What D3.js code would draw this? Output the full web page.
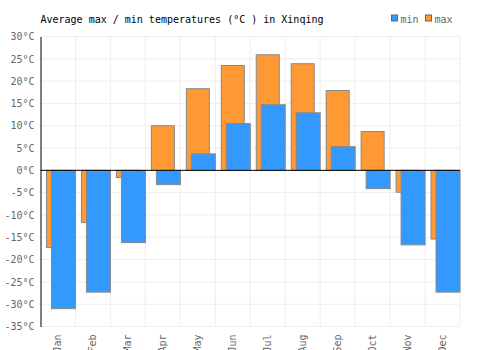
<!DOCTYPE html>
<html>
<head>
<meta charset="utf-8">
<script src="https://cdn.jsdelivr.net/npm/d3@7"></script>
<style>
  body { margin: 0; background: #fff; }
  text { font-family: "DejaVu Sans Mono", monospace; }
</style>
</head>
<body>
<div id="chart"></div>
<script>
// chart data
const months = ["Jan", "Feb", "Mar", "Apr", "May", "Jun", "Jul", "Aug", "Sep", "Oct", "Nov", "Dec"];
const maxTemps = [-17.3, -11.7, -1.6, 10.0, 18.3, 23.5, 25.9, 23.9, 17.9, 8.7, -4.9, -15.4];
const minTemps = [-31.0, -27.3, -16.2, -3.2, 3.7, 10.5, 14.7, 12.9, 5.3, -4.1, -16.7, -27.3];
const yTicks = [30, 25, 20, 15, 10, 5, 0, -5, -10, -15, -20, -25, -30, -35];

const margin = {top: 36.5, right: 40, bottom: 23.5, left: 40.5};
const width = 500 - margin.left - margin.right;
const height = 350 - margin.top - margin.bottom;

const svg = d3.select("#chart")
  .append("svg")
    .attr("width", 500)
    .attr("height", 350)
  .append("g")
    .attr("transform", `translate(${margin.left}, ${margin.top})`);

const xScale = d3.scaleBand()
  .domain(months)
  .range([0, width]);

const yScale = d3.scaleLinear()
  .domain([-35, 30])
  .range([height, 0]);

// grid
svg.append("g")
  .selectAll("line")
  .data(yTicks)
  .join("line")
    .attr("x1", 0)
    .attr("x2", width)
    .attr("y1", d => yScale(d))
    .attr("y2", d => yScale(d))
    .attr("stroke", "#eeeeee");

svg.append("g")
  .selectAll("line")
  .data(months)
  .join("line")
    .attr("x1", d => xScale(d) + xScale.bandwidth())
    .attr("x2", d => xScale(d) + xScale.bandwidth())
    .attr("y1", 0)
    .attr("y2", height)
    .attr("stroke", "#eeeeee");

// y axis
svg.append("g")
  .call(d3.axisLeft(yScale).tickValues(yTicks).tickSize(0).tickPadding(6).tickFormat(d => d + "°C"))
  .call(g => g.select(".domain").attr("stroke", "#000"))
  .call(g => g.selectAll("text")
    .attr("fill", "#666")
    .style("font-family", "DejaVu Sans Mono")
    .style("font-size", "10px"));

// x axis labels (rotated, clipped at the bottom edge like the original)
svg.append("g")
  .attr("transform", `translate(0, ${height})`)
  .call(d3.axisBottom(xScale).tickSize(0).tickPadding(0))
  .call(g => g.select(".domain").remove())
  .call(g => g.selectAll("text")
    .attr("fill", "#666")
    .style("font-family", "DejaVu Sans Mono")
    .style("font-size", "10px")
    .attr("text-anchor", "end")
    .attr("transform", "rotate(-90)")
    .attr("x", -8)
    .attr("y", 0)
    .attr("dy", "0.35em"));

// max bars
svg.append("g")
  .selectAll("rect")
  .data(months)
  .join("rect")
    .attr("x", d => xScale(d) + 6)
    .attr("width", 23)
    .attr("y", (d, i) => yScale(Math.max(0, maxTemps[i])))
    .attr("height", (d, i) => Math.abs(yScale(maxTemps[i]) - yScale(0)))
    .attr("fill", "#ff9933")
    .attr("stroke", "#888")
    .attr("stroke-width", 1);

// min bars
svg.append("g")
  .selectAll("rect")
  .data(months)
  .join("rect")
    .attr("x", d => xScale(d) + 11)
    .attr("width", 24)
    .attr("y", (d, i) => yScale(Math.max(0, minTemps[i])))
    .attr("height", (d, i) => Math.abs(yScale(minTemps[i]) - yScale(0)))
    .attr("fill", "#3399ff")
    .attr("stroke", "#888")
    .attr("stroke-width", 1);

// zero line
svg.append("line")
  .attr("x1", 0)
  .attr("x2", width)
  .attr("y1", yScale(0))
  .attr("y2", yScale(0))
  .attr("stroke", "#000");

// title
svg.append("text")
  .attr("x", 0)
  .attr("y", -14)
  .style("font-size", "10px")
  .attr("fill", "#000")
  .text("Average max / min temperatures (°C ) in Xinqing");

// legend
const legend = [["min", "#3399ff"], ["max", "#ff9933"]];
const lg = svg.append("g")
  .attr("transform", `translate(${391.5 - margin.left}, ${-21.5})`);
legend.forEach(([name, color], i) => {
  const gi = lg.append("g").attr("transform", `translate(${i * 34}, 0)`);
  gi.append("rect")
    .attr("width", 6)
    .attr("height", 6)
    .attr("fill", color)
    .attr("stroke", "#666");
  gi.append("text")
    .attr("x", 9)
    .attr("y", 7.5)
    .style("font-size", "10px")
    .attr("fill", "#666")
    .text(name);
});
</script>
</body>
</html>
